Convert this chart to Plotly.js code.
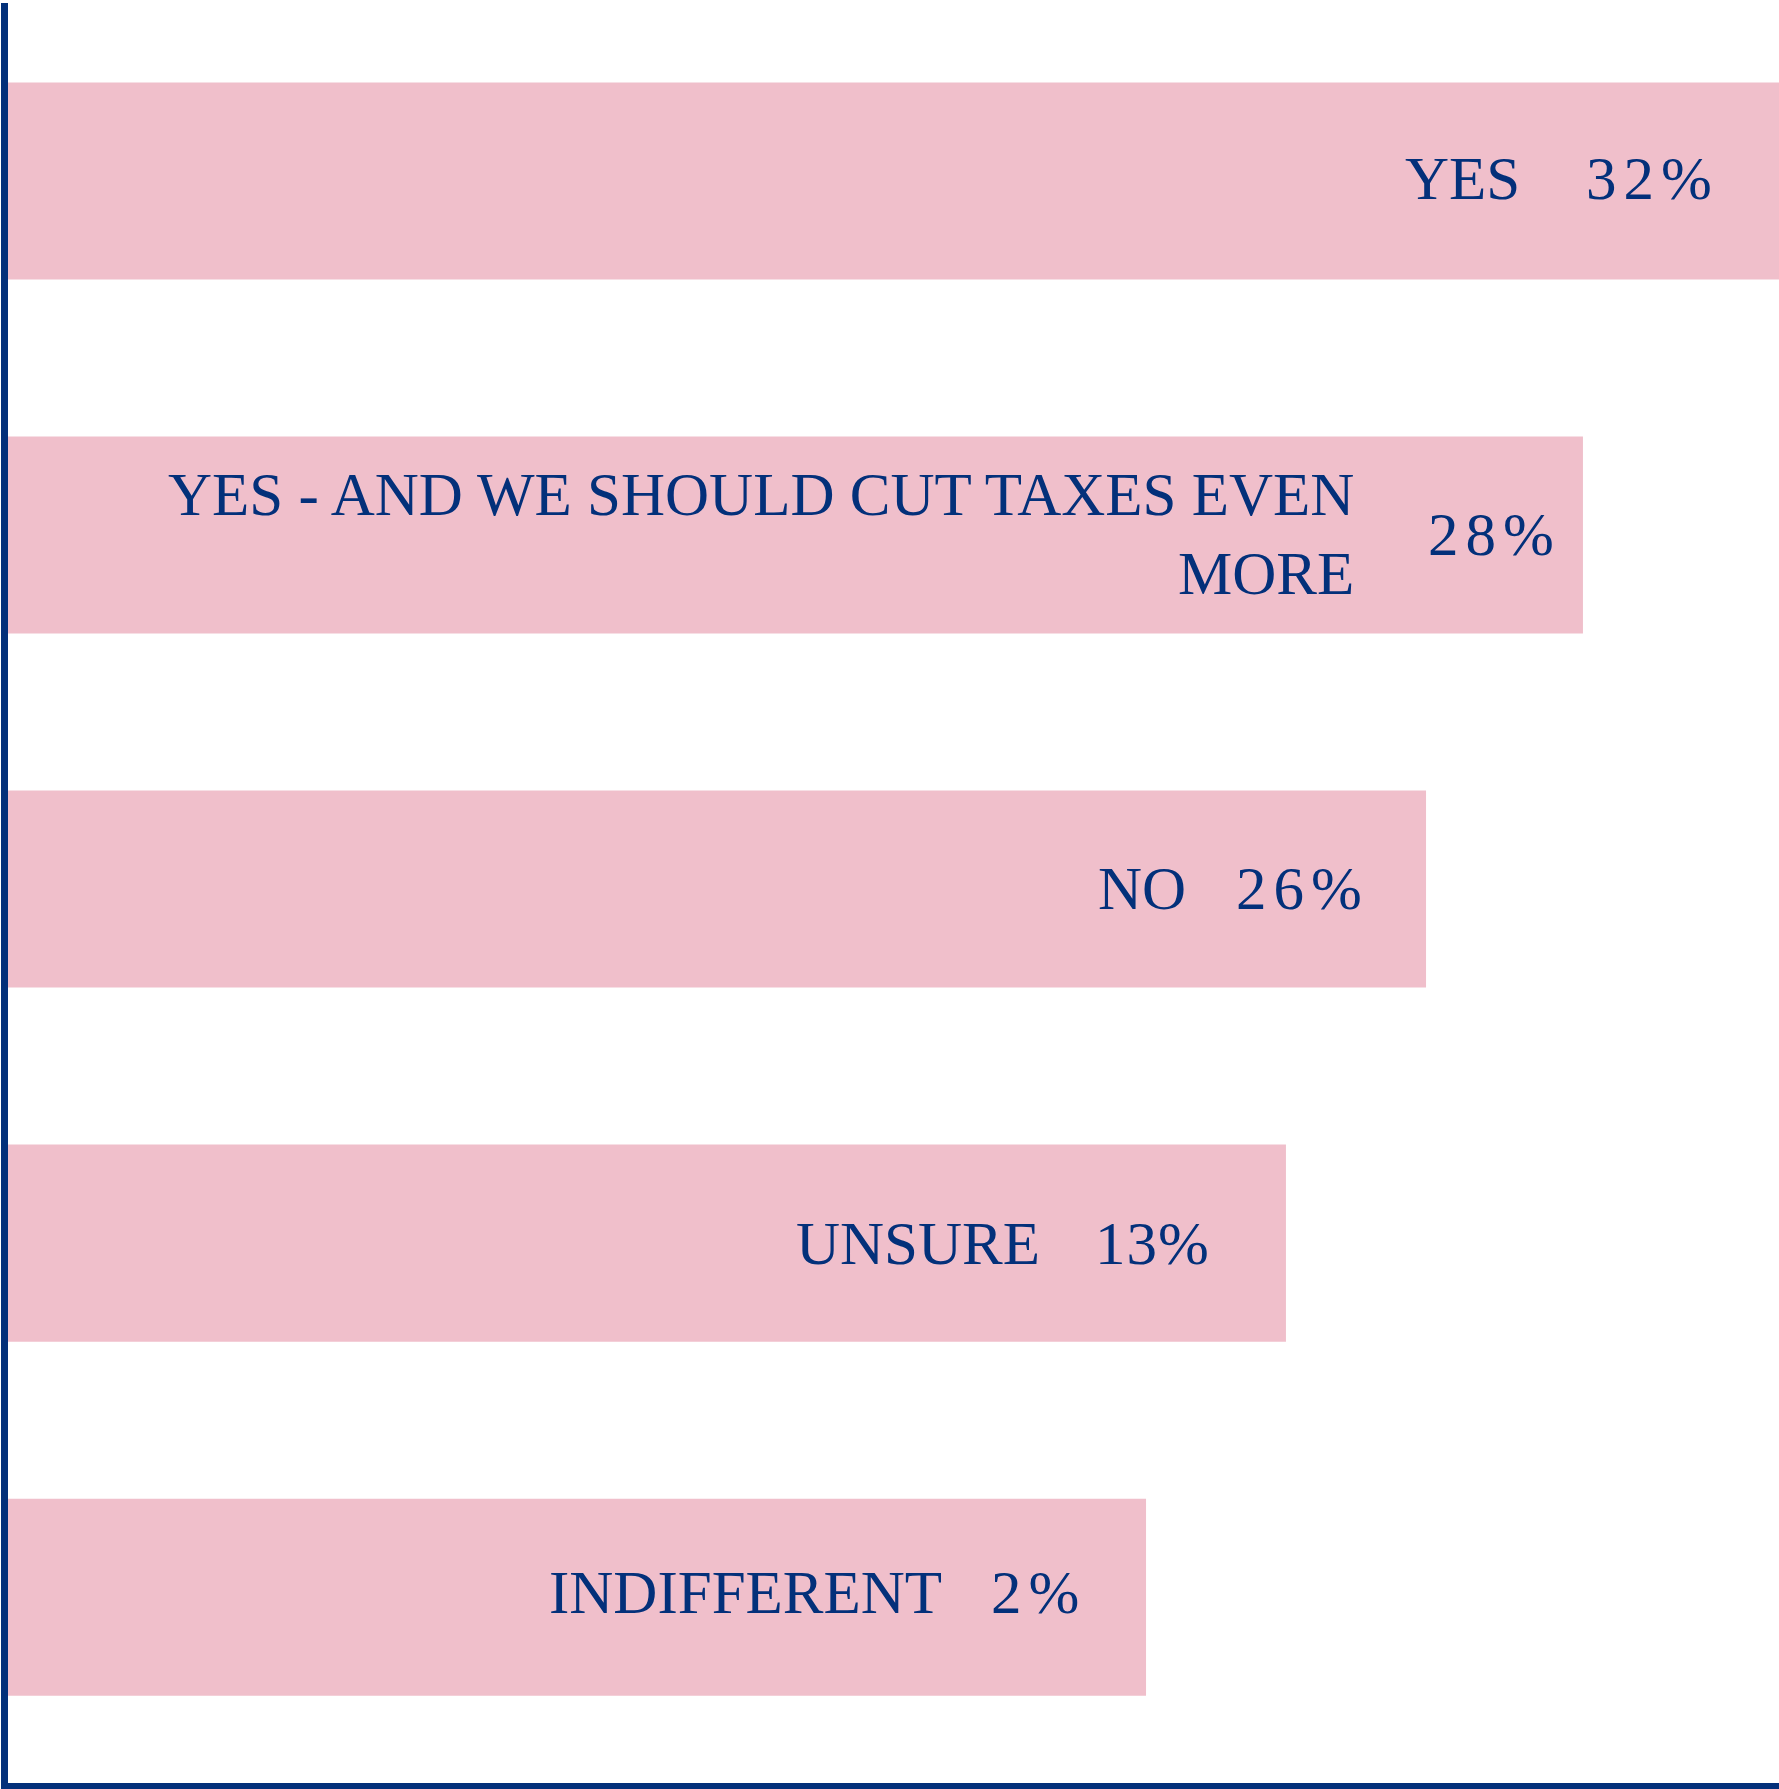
<!DOCTYPE html>
<html>
<head>
<meta charset="utf-8">
<script src="https://cdn.plot.ly/plotly-3.0.1.min.js"></script>
<style>
  html, body { margin: 0; padding: 0; background: #ffffff; }
  #chart { width: 1779px; height: 1789px; }
</style>
</head>
<body>
<div id="chart"></div>
<script>
// ---- data ----
var categories = ["YES", "YES - AND WE SHOULD CUT TAXES EVEN<br>MORE", "NO", "UNSURE", "INDIFFERENT"];
var percentLabels = ["32%", "28%", "26%", "13%", "2%"];
var percentValues = [32, 28, 26, 13, 2];
// bar lengths as drawn (decorative, not proportional to the percentages; % of axis width)
var barLength = [100, 88.93, 80.07, 72.16, 64.26];

// ---- styling / placement (not data) ----
var NAVY = "#03307a";
var PINK = "#f0bfcb";
var FONT = "Liberation Serif, Times New Roman, serif";
var nameShift = [-257, -227, -238, -244, -202];  // px from bar end to right edge of the name
var pctShift  = [-195, -157, -192, -193, -157];  // px from bar end to left edge of the percent
var pctSpacing = [7, 7, 7, 1, 7];
var labelYShift = [3, 1, 1, 0, 5];

var trace = {
  type: "bar",
  orientation: "h",
  y: categories.map(function (c, i) { return i; }),
  x: barLength,
  marker: { color: PINK, line: { width: 0 } },
  hoverinfo: "skip",
  showlegend: false
};

var annotations = [];
categories.forEach(function (name, i) {
  annotations.push({
    xref: "x", yref: "y",
    x: barLength[i], y: i,
    xanchor: "right", yanchor: "middle",
    xshift: nameShift[i], yshift: labelYShift[i],
    align: "right",
    text: name,
    showarrow: false,
    font: { family: FONT, size: 61, color: NAVY }
  });
  annotations.push({
    xref: "x", yref: "y",
    x: barLength[i], y: i,
    xanchor: "left", yanchor: "middle",
    xshift: pctShift[i], yshift: labelYShift[i],
    text: '<span style="letter-spacing:' + pctSpacing[i] + 'px">' + percentLabels[i] + '</span>',
    showarrow: false,
    font: { family: FONT, size: 61, color: NAVY }
  });
});

var layout = {
  width: 1779,
  height: 1789,
  margin: { l: 8, r: 0, t: 3, b: 6, pad: 0 },
  paper_bgcolor: "#ffffff",
  plot_bgcolor: "#ffffff",
  bargap: 0.4435,
  xaxis: {
    range: [0, 100],
    showgrid: false, zeroline: false, showticklabels: false, ticks: "",
    showline: true, linecolor: NAVY, linewidth: 6,
    fixedrange: true
  },
  yaxis: {
    type: "linear",
    range: [4.525, -0.503],
    showgrid: false, zeroline: false, showticklabels: false, ticks: "",
    showline: true, linecolor: NAVY, linewidth: 7,
    fixedrange: true
  },
  annotations: annotations
};

Plotly.newPlot("chart", [trace], layout, { displayModeBar: false, staticPlot: true });
</script>
</body>
</html>
